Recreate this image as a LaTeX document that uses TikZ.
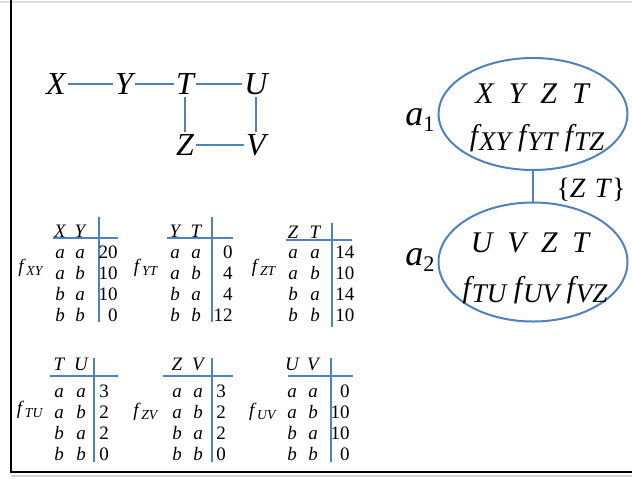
\documentclass[tikz,border=0pt]{standalone}
\usepackage{fontspec}
\setmainfont{Liberation Serif}
\usepackage{graphicx}
\usetikzlibrary{shapes.geometric}

\definecolor{linkblue}{RGB}{79,129,189}
\newcommand{\fsub}[2][0.9]{\textit{f}\kern0.03em\raisebox{-0.17em}{\scalebox{#1}{\textit{#2}}}}
\newcommand{\asub}[1]{\textit{a}\raisebox{-0.18em}{\scalebox{0.62}{#1}}}

\tikzset{
  var/.style={inner sep=1pt,font=\fontsize{16}{18}\selectfont\itshape},
  link/.style={draw=linkblue,line width=1pt},
  rule/.style={draw=linkblue,line width=1.2pt},
  cell/.style={inner sep=0pt,anchor=base,font=\fontsize{9.5}{10}\selectfont\itshape},
  num/.style={inner sep=0pt,font=\fontsize{9.5}{10}\selectfont},
  flabel/.style={inner sep=0pt,font=\fontsize{9.5}{10}\selectfont},
  bag/.style={draw=linkblue,line width=1pt,ellipse,inner sep=0pt},
  bagtext/.style={inner sep=0pt,anchor=base,font=\fontsize{15}{18}\selectfont\itshape},
  bagname/.style={inner sep=0pt,font=\fontsize{18}{20}\selectfont},
}

\begin{document}
\begin{tikzpicture}[x=0.5pt,y=-0.5pt]
\useasboundingbox (0,0) rectangle (632,478);
% frame
\draw[gray!25,line width=1pt] (0,1.5) -- (632,1.5);
\draw[gray!35,line width=1pt] (11,476) -- (632,476);
\draw[black,line width=1pt] (11,0) -- (11,472) -- (632,472);

% graph
\node[var] (X) at (56,84) {X};
\node[var] (Y) at (124,84) {Y};
\node[var] (T) at (185,84) {T};
\node[var] (U) at (256,84) {U};
\node[var] (Z) at (185,145) {Z};
\node[var] (V) at (256,145) {V};
\draw[link] (X) -- (Y);
\draw[link] (Y) -- (T);
\draw[link] (T) -- (U);
\draw[link] (T) -- (Z);
\draw[link] (U) -- (V);
\draw[link] (Z) -- (V);

% tables
\begin{scope}[shift={(99,238)}]
\node[cell] (xy-h1) at (-39,-1) {X};
\node[cell] (xy-h2) at (-19,-1) {Y};
\draw[rule] (-46,0) -- (19,0);
\draw[rule] (0,-21) -- (0,84);
\node[flabel] (xy-f) at (-68,30) {\fsub[0.72]{XY}};
\foreach \p/\q/\v [count=\r] in {a/a/20,a/b/10,b/a/10,b/b/0} {
  \node[cell] (xy-\r-1) at (-39,\r*21.3-1.3) {\p};
  \node[cell] (xy-\r-2) at (-19,\r*21.3-1.3) {\q};
  \node[num,anchor=base east] (xy-\r-v) at (19,\r*21.3-1.3) {\v};
}
\end{scope}

\begin{scope}[shift={(212,238)}]
\node[cell] (yt-h1) at (-37,-1) {Y};
\node[cell] (yt-h2) at (-16,-1) {T};
\draw[rule] (-45,0) -- (21,0);
\draw[rule] (0,-21) -- (0,84);
\node[flabel] (yt-f) at (-66,30) {\fsub[0.72]{YT}};
\foreach \p/\q/\v [count=\r] in {a/a/0,a/b/4,b/a/4,b/b/12} {
  \node[cell] (yt-\r-1) at (-37,\r*21.3-1.3) {\p};
  \node[cell] (yt-\r-2) at (-16,\r*21.3-1.3) {\q};
  \node[num,anchor=base east] (yt-\r-v) at (21,\r*21.3-1.3) {\v};
}
\end{scope}

\begin{scope}[shift={(332,240)}]
\node[cell] (zt-h1) at (-39,-2) {Z};
\node[cell] (zt-h2) at (-17,-2) {T};
\draw[rule] (-46,0) -- (20,0);
\draw[rule] (0,-17) -- (0,87);
\node[flabel] (zt-f) at (-68,28) {\fsub[0.72]{ZT}};
\foreach \p/\q/\v [count=\r] in {a/a/14,a/b/10,b/a/14,b/b/10} {
  \node[cell] (zt-\r-1) at (-39,\r*21.3-3.3) {\p};
  \node[cell] (zt-\r-2) at (-17,\r*21.3-3.3) {\q};
  \node[num,anchor=base west] (zt-\r-v) at (3,\r*21.3-3.3) {\v};
}
\end{scope}

\begin{scope}[shift={(94,376)}]
\node[cell] (tu-h1) at (-35,-6) {T};
\node[cell] (tu-h2) at (-13,-6) {U};
\draw[rule] (-44,0) -- (24,0);
\draw[rule] (0,-18) -- (0,86);
\node[flabel] (tu-f) at (-64,34) {\fsub[0.72]{TU}};
\foreach \p/\q/\v [count=\r] in {a/a/3,a/b/2,b/a/2,b/b/0} {
  \node[cell] (tu-\r-1) at (-35,\r*21.3-0.3) {\p};
  \node[cell] (tu-\r-2) at (-13,\r*21.3-0.3) {\q};
  \node[num,anchor=base west] (tu-\r-v) at (5,\r*21.3-0.3) {\v};
}
\end{scope}

\begin{scope}[shift={(212,376)}]
\node[cell] (zv-h1) at (-35,-6) {Z};
\node[cell] (zv-h2) at (-14,-6) {V};
\draw[rule] (-49,0) -- (21,0);
\draw[rule] (0,-18) -- (0,86);
\node[flabel] (zv-f) at (-66,36) {\fsub[0.72]{ZV}};
\foreach \p/\q/\v [count=\r] in {a/a/3,a/b/2,b/a/2,b/b/0} {
  \node[cell] (zv-\r-1) at (-35,\r*21.3-0.3) {\p};
  \node[cell] (zv-\r-2) at (-14,\r*21.3-0.3) {\q};
  \node[num,anchor=base west] (zv-\r-v) at (4,\r*21.3-0.3) {\v};
}
\end{scope}

\begin{scope}[shift={(331,376)}]
\node[cell] (uv-h1) at (-39,-6) {U};
\node[cell] (uv-h2) at (-18,-6) {V};
\draw[rule] (-43,0) -- (22,0);
\draw[rule] (0,-18) -- (0,86);
\node[flabel] (uv-f) at (-68,36) {\fsub[0.72]{UV}};
\foreach \p/\q/\v [count=\r] in {a/a/0,a/b/10,b/a/10,b/b/0} {
  \node[cell] (uv-\r-1) at (-39,\r*21.3-0.3) {\p};
  \node[cell] (uv-\r-2) at (-18,\r*21.3-0.3) {\q};
  \node[num,anchor=base east] (uv-\r-v) at (19,\r*21.3-0.3) {\v};
}
\end{scope}

% join tree
\node[bag,minimum width=94.5pt,minimum height=56pt] (a1) at (533,114) {};
\node[bagtext] (a1-vars) at (532,103) {X\ \ Y\ \ Z\ \ T};
\node[bagtext] (a1-facs) at (537,145) {\fsub{XY} \fsub{YT} \fsub{TZ}};
\node[bagname] (a1-name) at (420,120) {\asub{1}};
\node[bag,minimum width=94.5pt,minimum height=59.5pt] (a2) at (533,262) {};
\node[bagtext] (a2-vars) at (530,252) {U\ \ V\ \ Z\ \ T};
\node[bagtext] (a2-facs) at (535,297) {\fsub{TU} \fsub{UV} \fsub{VZ}};
\node[bagname] (a2-name) at (420,260) {\asub{2}};
\draw[link] (a1) -- (a2);
\node[inner sep=0pt,font=\fontsize{14}{16}\selectfont] (sep) at (591,190) {\{\textit{Z\,\,T}\}};
\end{tikzpicture}
\end{document}
